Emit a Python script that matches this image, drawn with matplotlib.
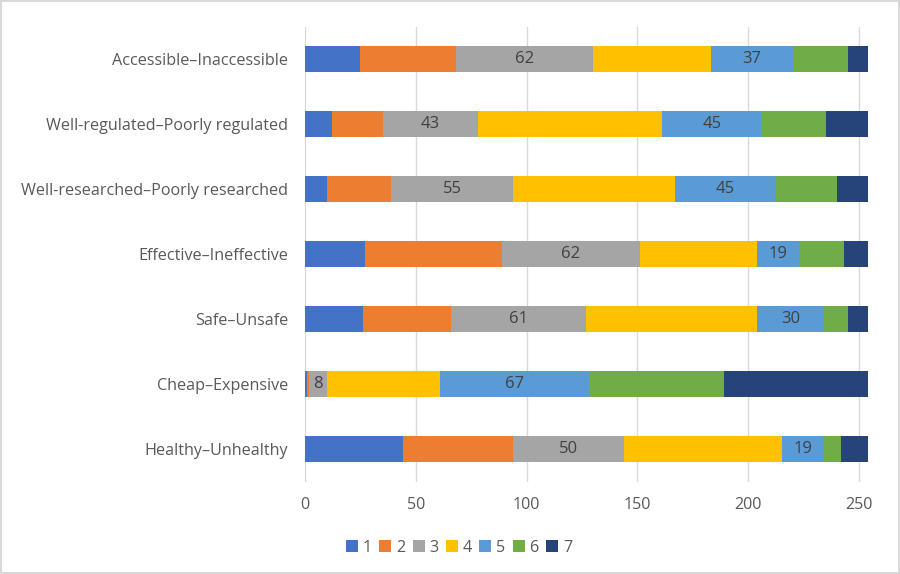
import matplotlib
matplotlib.use('Agg')
import matplotlib.pyplot as plt
import numpy as np

plt.rcParams['font.family'] = ['Open Sans', 'DejaVu Sans']

cats = ['Accessible–Inaccessible', 'Well-regulated–Poorly regulated',
        'Well-researched–Poorly researched', 'Effective–Ineffective',
        'Safe–Unsafe', 'Cheap–Expensive', 'Healthy–Unhealthy']

s1 = [25, 12, 10, 27, 26, 1, 44]
s2 = [43, 23, 29, 62, 40, 1, 50]
s3 = [62, 43, 55, 62, 61, 8, 50]
s4 = [53, 83, 73, 53, 77, 51, 71]
s5 = [37, 45, 45, 19, 30, 67, 19]
s6 = [25, 29, 28, 20, 11, 61, 8]
s7 = [9, 19, 14, 11, 9, 65, 12]

series = [s1, s2, s3, s4, s5, s6, s7]
names = ['1', '2', '3', '4', '5', '6', '7']
colors = ['#4472C4', '#ED7D31', '#A5A5A5', '#FFC000', '#5B9BD5', '#70AD47', '#264478']
labelled = ['3', '5']

txt = '#595959'

fig = plt.figure(figsize=(9, 5.74), dpi=100)
fig.patch.set_edgecolor('#D9D9D9')
fig.patch.set_linewidth(1.5)
ax = fig.add_axes([0.3389, 0.1611, 0.6255, 0.7927])

y = np.arange(len(cats))
left = np.zeros(len(cats))
for vals, name, c in zip(series, names, colors):
    vals = np.array(vals, dtype=float)
    bars = ax.barh(y, vals, left=left, height=0.4, color=c, label=name, zorder=3)
    if name in labelled:
        ax.bar_label(bars, labels=[str(int(v)) for v in vals], label_type='center',
                     color='#404040', fontsize=12)
    left += vals

ax.set_yticks(y)
ax.set_yticklabels(cats)
ax.set_ylim(len(cats) - 0.5, -0.5)
ax.set_xlim(0, 254)
ax.set_xticks([0, 50, 100, 150, 200, 250])
ax.grid(axis='x', color='#D9D9D9', linewidth=1, zorder=0)
ax.tick_params(length=0, labelsize=11.6, colors=txt)
ax.tick_params(axis='x', pad=11)
ax.tick_params(axis='y', pad=12)
for sp in ax.spines.values():
    sp.set_visible(False)

fig.legend(loc='center', bbox_to_anchor=(0.51, 0.046), ncol=7, frameon=False,
           handlelength=0.75, handleheight=0.75, handletextpad=0.3, columnspacing=0.45,
           fontsize=11.6, labelcolor=txt)

fig.savefig('out.png', dpi=100)
